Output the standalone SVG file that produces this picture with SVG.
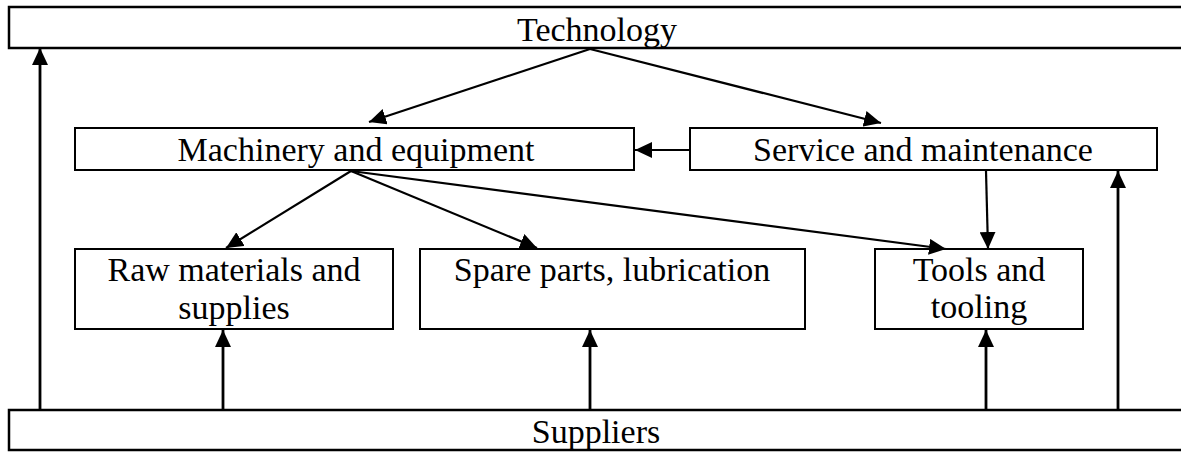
<svg xmlns="http://www.w3.org/2000/svg" width="1181" height="452" viewBox="0 0 1181 452">
  <style>
    .box { fill: #fff; stroke: #000; stroke-width: 2; }
    .wide { stroke-width: 2.5; }
    .lbl { font-family: "Liberation Serif", "Times New Roman", serif; font-size: 34px; fill: #000; text-anchor: middle; }
    .link { fill: none; stroke: #000; stroke-width: 2.2; marker-end: url(#head); }
    .feed { stroke-width: 2.8; }
  </style>
  <defs>
    <marker id="head" markerUnits="userSpaceOnUse" markerWidth="17" markerHeight="16" viewBox="0 0 17 16" refX="17" refY="8" orient="auto">
      <path d="M0,0 L17,8 L0,16 Z" fill="#000"/>
    </marker>
  </defs>

  <rect width="1181" height="452" fill="#fff"/>

  <g id="technology">
    <rect class="box wide" x="9" y="7" width="1200" height="41"/>
    <text class="lbl" x="597" y="41">Technology</text>
  </g>

  <g id="machinery">
    <rect class="box" x="75" y="128" width="559" height="42"/>
    <text class="lbl" x="356" y="161">Machinery and equipment</text>
  </g>

  <g id="service">
    <rect class="box" x="690" y="128" width="467" height="42"/>
    <text class="lbl" x="923" y="161">Service and maintenance</text>
  </g>

  <g id="raw-materials">
    <rect class="box" x="75" y="249" width="318" height="80"/>
    <text class="lbl" x="234" y="281">Raw materials and</text>
    <text class="lbl" x="234" y="319">supplies</text>
  </g>

  <g id="spare-parts">
    <rect class="box" x="420" y="249" width="385" height="80"/>
    <text class="lbl" x="612" y="281">Spare parts, lubrication</text>
  </g>

  <g id="tools">
    <rect class="box" x="875" y="249" width="208" height="80"/>
    <text class="lbl" x="979" y="281">Tools and</text>
    <text class="lbl" x="979" y="318">tooling</text>
  </g>

  <g id="suppliers">
    <rect class="box wide" x="9" y="410" width="1200" height="40"/>
    <text class="lbl" x="596" y="443">Suppliers</text>
  </g>

  <g id="connectors">
    <!-- from Technology -->
    <line class="link" x1="590" y1="49" x2="369" y2="122"/>
    <line class="link" x1="590" y1="49" x2="881" y2="123"/>
    <!-- service links -->
    <line class="link" x1="690" y1="150" x2="635" y2="150"/>
    <line class="link" x1="986" y1="171" x2="988" y2="249"/>
    <!-- from Machinery -->
    <line class="link" x1="351" y1="171" x2="226" y2="248"/>
    <line class="link" x1="351" y1="171" x2="537" y2="248"/>
    <line class="link" x1="351" y1="171" x2="946" y2="249"/>
    <!-- from Suppliers -->
    <line class="link feed" x1="40" y1="410" x2="40" y2="48"/>
    <line class="link feed" x1="223" y1="410" x2="223" y2="330"/>
    <line class="link feed" x1="590" y1="410" x2="590" y2="330"/>
    <line class="link feed" x1="986" y1="410" x2="986" y2="330"/>
    <line class="link feed" x1="1118" y1="410" x2="1118" y2="171"/>
  </g>
</svg>
